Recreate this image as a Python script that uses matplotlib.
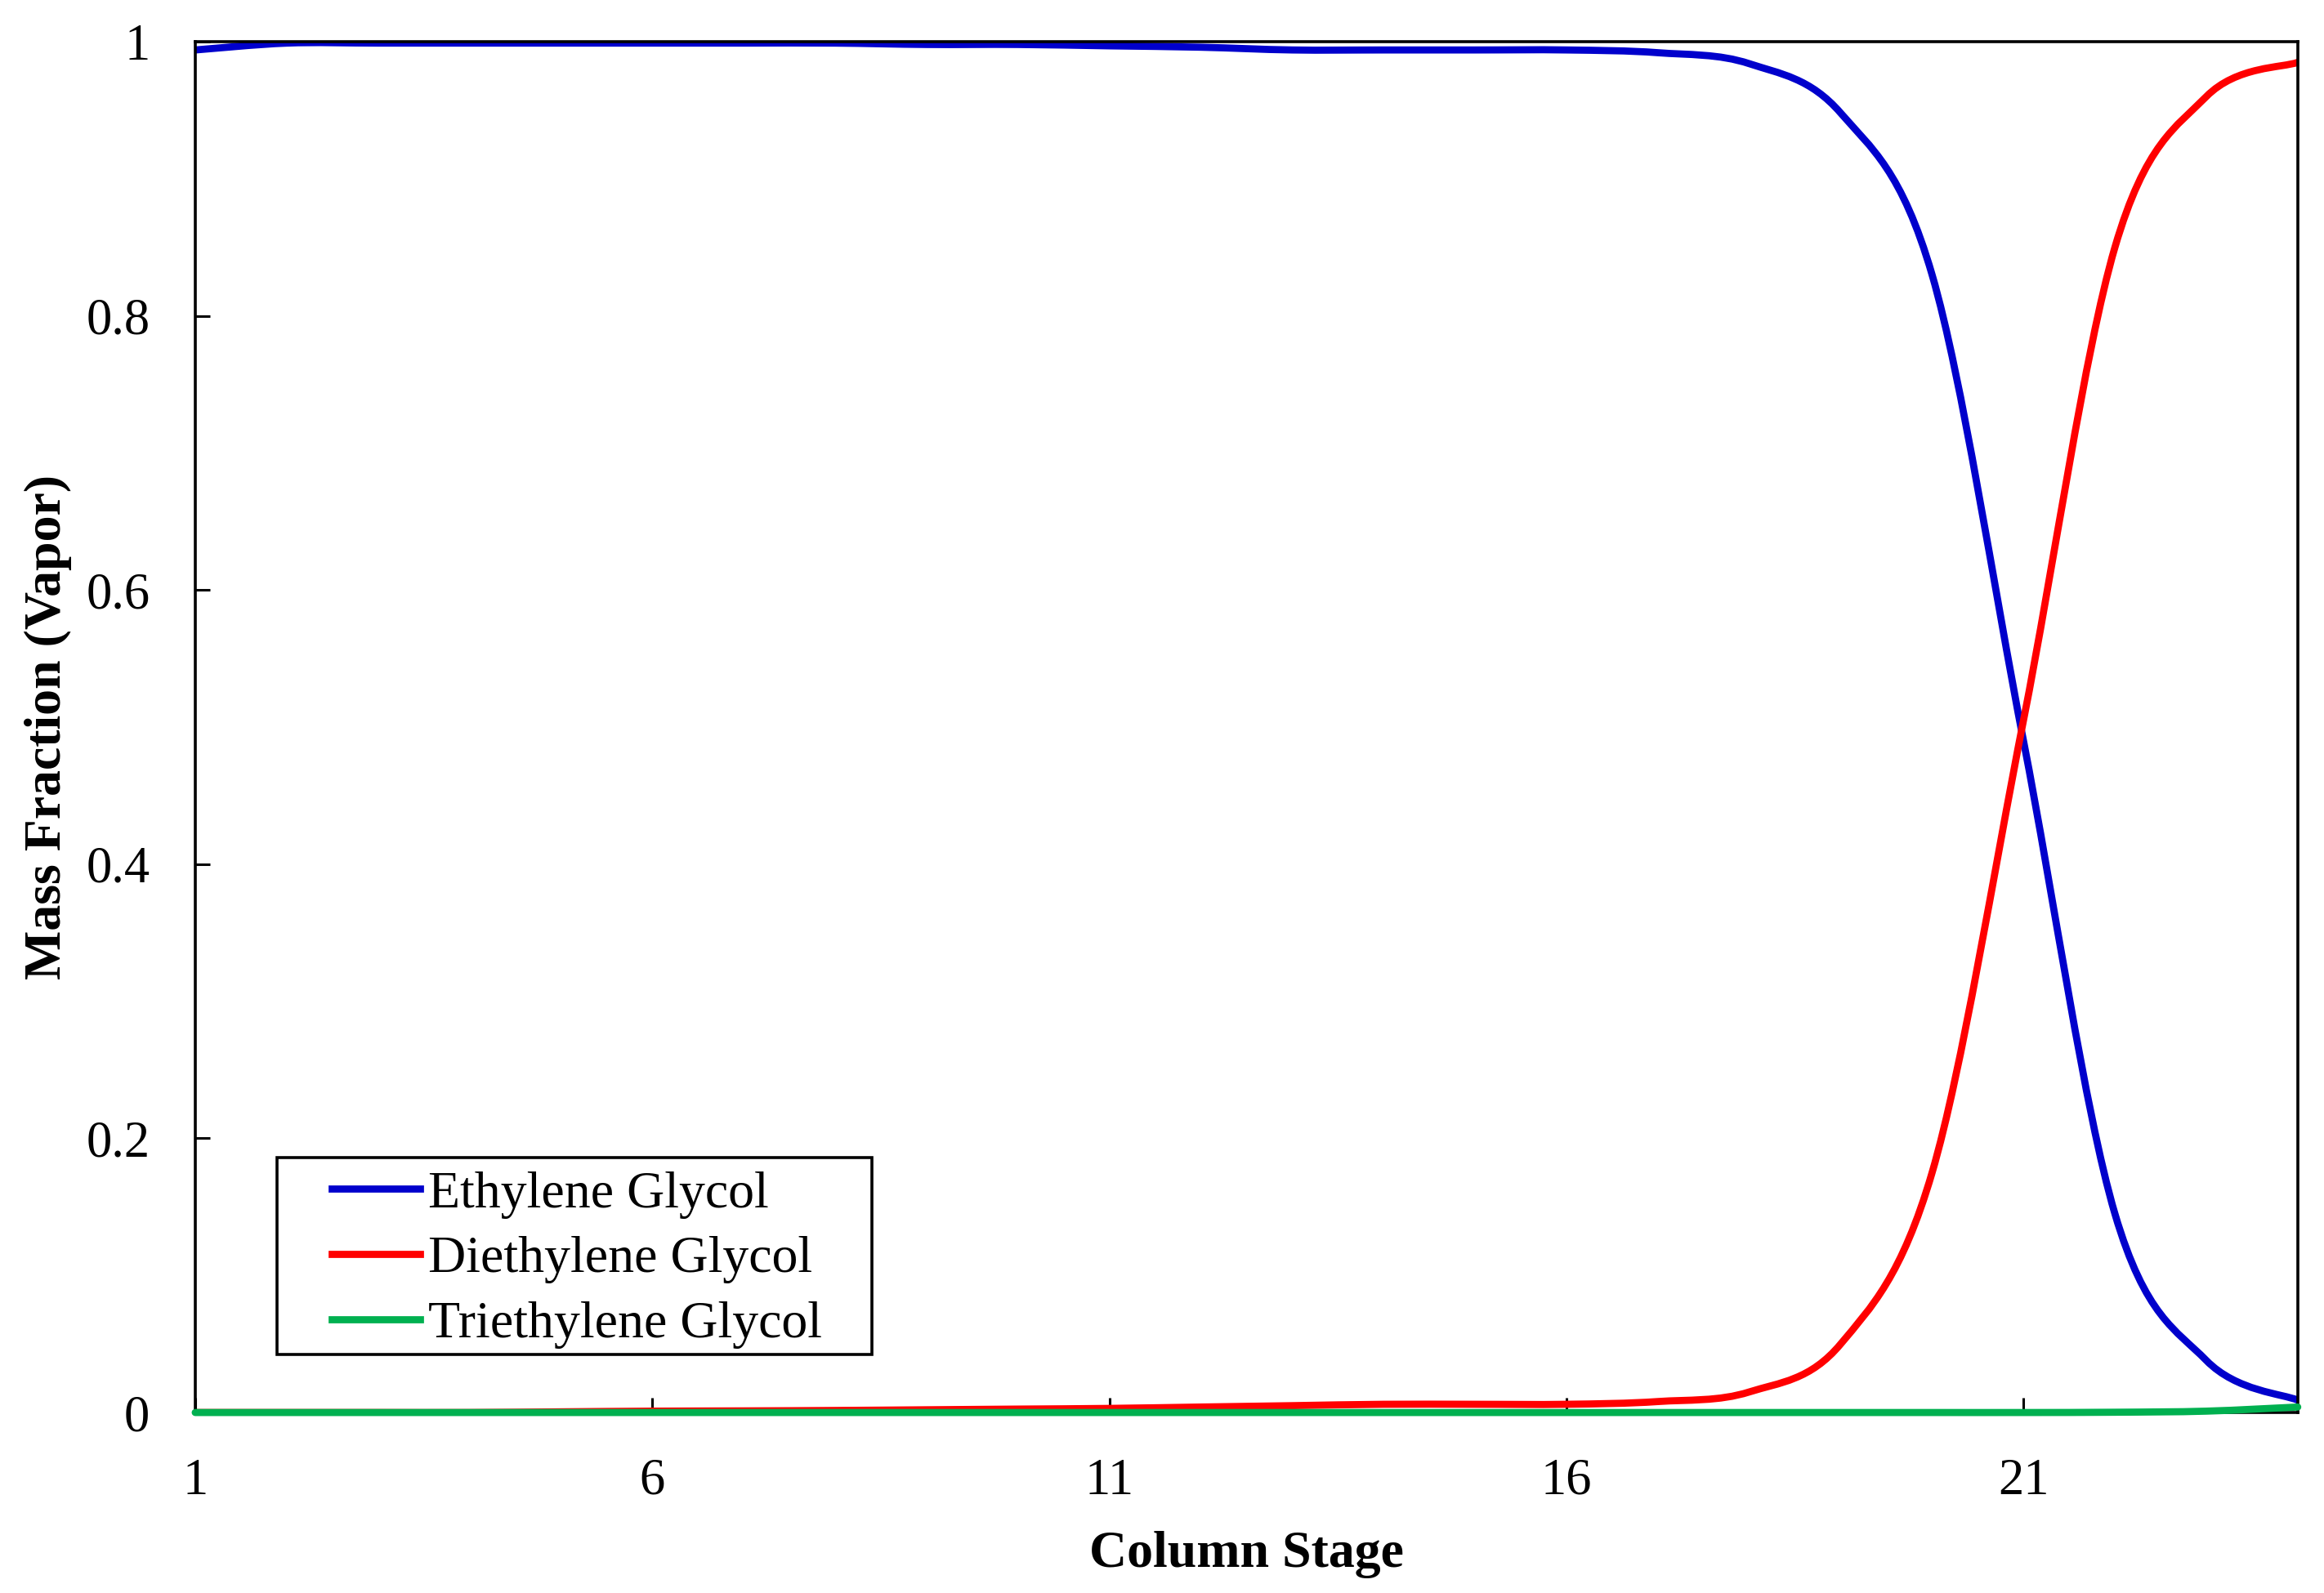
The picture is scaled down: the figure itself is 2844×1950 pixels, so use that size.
import numpy as np
import matplotlib
matplotlib.use("Agg")
import matplotlib.pyplot as plt
from matplotlib.path import Path
from matplotlib.patches import PathPatch, Rectangle
from matplotlib.lines import Line2D

# column stages and vapor mass fractions
stages = list(range(1, 25))
eg = [0.994, 0.999, 0.999, 0.999, 0.999, 0.999, 0.999, 0.999, 0.998, 0.998,
      0.997, 0.996, 0.994, 0.994, 0.994, 0.994, 0.992, 0.984, 0.948, 0.83,
      0.49, 0.145, 0.038, 0.009]
deg = [0.0, 0.0, 0.0, 0.0, 0.0005, 0.001, 0.0012, 0.0015, 0.002, 0.0025,
       0.003, 0.004, 0.005, 0.006, 0.006, 0.006, 0.008, 0.015, 0.05, 0.175,
       0.505, 0.85, 0.96, 0.985]
teg = [0.0, 0.0, 0.0, 0.0, 0.0, 0.0, 0.0, 0.0, 0.0, 0.0,
       0.0, 0.0, 0.0, 0.0, 0.0, 0.0, 0.0, 0.0, 0.0, 0.0,
       0.0, 0.0002, 0.001, 0.004]
names = ["Ethylene Glycol", "Diethylene Glycol", "Triethylene Glycol"]
colors = ["#0000CC", "#FF0000", "#00B050"]

xticks = [1, 6, 11, 16, 21]
yticks = [0, 0.2, 0.4, 0.6, 0.8, 1]
ytick_labels = ["0", "0.2", "0.4", "0.6", "0.8", "1"]

plt.rcParams['font.family'] = ['Liberation Serif', 'DejaVu Serif']


def smooth_path(x, y):
    # excel style smoothed line: catmull-rom as cubic bezier segments
    pts = np.column_stack([x, y]).astype(float)
    n = len(pts)
    verts = [pts[0]]
    codes = [Path.MOVETO]
    for i in range(n - 1):
        p0 = pts[i - 1] if i > 0 else pts[i]
        p1 = pts[i]
        p2 = pts[i + 1]
        p3 = pts[i + 2] if i + 2 < n else pts[i + 1]
        c1 = p1 + (p2 - p0) / 6.0
        c2 = p2 - (p3 - p1) / 6.0
        verts += [c1, c2, p2]
        codes += [Path.CURVE4] * 3
    return Path(verts, codes)


fig = plt.figure(figsize=(28.44, 19.5), dpi=100)
ax = fig.add_axes([0.0840, 0.1133, 0.9047, 0.8605])

lw = 6.3
series = [eg, deg, teg]
for i, s in enumerate(series):
    patch = PathPatch(smooth_path(stages, s), facecolor='none', edgecolor=colors[i],
                      lw=lw, capstyle='round', joinstyle='round', zorder=2 + i * 0.1)
    if i == 2:
        patch.set_clip_on(False)
        patch.set_zorder(3)
    ax.add_patch(patch)

ax.set_xlim(1, 24)
ax.set_ylim(0, 1)
ax.set_xticks(xticks)
ax.set_yticks(yticks)
ax.set_yticklabels(ytick_labels)

for sp in ax.spines.values():
    sp.set_linewidth(2.6)
ax.tick_params(direction='in', length=13, width=2.2, labelsize=45, pad=40,
               top=False, right=False)

ax.set_xlabel("Column Stage", fontsize=46, fontweight='bold')
ax.set_ylabel("Mass Fraction (Vapor)", fontsize=46, fontweight='bold')
ax.xaxis.set_label_coords(0.5, -0.0865)
ax.yaxis.set_label_coords(-0.0587, 0.5)

# legend box
frame = Rectangle((0.0389, 0.0423), 0.2829, 0.1436, transform=ax.transAxes,
                  facecolor='white', edgecolor='black', lw=2.6, zorder=5)
ax.add_patch(frame)
handles = [Line2D([], [], color=c, lw=lw) for c in colors]
leg = ax.legend(handles, names, loc='upper left', bbox_to_anchor=(0.0649, 0.1765),
                frameon=False, fontsize=46, borderpad=0, borderaxespad=0,
                handlelength=1.7, handletextpad=0.15, labelspacing=0.33)
leg.set_zorder(6)

fig.savefig("out.png", dpi=100)
